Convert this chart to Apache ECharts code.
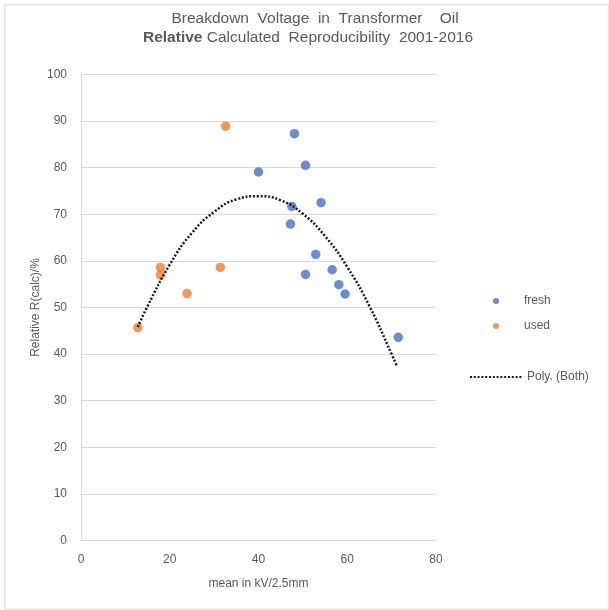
<!DOCTYPE html>
<html><head><meta charset="utf-8">
<script src="https://cdn.jsdelivr.net/npm/echarts@6/dist/echarts.min.js"></script>
<style>html,body{margin:0;padding:0;background:#fff}#c{width:609px;height:610px}</style>
</head><body><div id="c"></div>
<script>
const freshX = [48.1, 50.6, 40.0, 47.5, 54.1, 47.2, 52.9, 50.6, 56.6, 58.1, 59.5, 71.5];
const freshY = [87.3, 80.5, 79.1, 71.7, 72.5, 67.9, 61.4, 57.1, 58.1, 54.9, 52.9, 43.6];
const usedX = [32.6, 17.9, 17.9, 23.9, 31.4, 12.8];
const usedY = [88.9, 58.6, 57.0, 53.0, 58.6, 45.7];
const trendX = [12.8, 15, 20, 25, 30, 35, 40, 45, 50, 55, 60, 65, 70, 71.1];
const trendY = [45.8, 50.3, 59.2, 66.0, 70.5, 73.2, 73.9, 73.0, 70.1, 65.3, 58.7, 50.3, 40.0, 37.6];
const xTicks = [0, 20, 40, 60, 80];
const yTicks = [0, 10, 20, 30, 40, 50, 60, 70, 80, 90, 100];

const zip = (a, b) => a.map((v, i) => [v, b[i]]);
const txt = '#595959';
const grid = '#d9d9d9';
const ff = 'Liberation Sans, Arial';
const rich = {
  n: {fontFamily: ff, fontSize: 15.5, color: txt, fontWeight: 'normal', lineHeight: 16},
  b: {fontFamily: ff, fontSize: 15.5, color: txt, fontWeight: 'bold', lineHeight: 16}
};
const chart = echarts.init(document.getElementById('c'));
chart.setOption({
  backgroundColor: '#fff',
  animation: false,
  title: [{
    left: 315, textAlign: 'center', top: 11, padding: 0,
    text: '{n|Breakdown  Voltage  in  Transformer    Oil}',
    textStyle: {fontWeight: 'normal', fontFamily: ff, fontSize: 15.5, color: txt, rich: rich}
  }, {
    left: 308, textAlign: 'center', top: 30, padding: 0,
    text: '{b|Relative} {n|Calculated  Reproducibility  2001-2016}',
    textStyle: {fontWeight: 'normal', fontFamily: ff, fontSize: 15.5, color: txt, rich: rich}
  }],
  graphic: [{
    type: 'rect', left: 2, top: 2, silent: true,
    shape: {width: 604, height: 605},
    style: {fill: 'none', stroke: '#e3e3e3', lineWidth: 1.5}
  }],
  legend: [{
    orient: 'vertical', left: 488, top: 290, itemGap: 13,
    itemWidth: 6, itemHeight: 6,
    textStyle: {color: txt, fontSize: 12, fontFamily: ff, padding: [0, 0, 0, 20]},
    data: [{name: 'fresh', icon: 'circle'}, {name: 'used', icon: 'circle'}]
  }, {
    left: 464, top: 366, itemWidth: 52, itemHeight: 8,
    itemStyle: {opacity: 0},
    textStyle: {color: txt, fontSize: 12, fontFamily: ff, padding: [0, 0, 0, 0]},
    data: [{name: 'Poly. (Both)'}]
  }],
  grid: {left: 81, right: 173, top: 74.5, bottom: 69.5, containLabel: false},
  xAxis: {
    type: 'value', min: xTicks[0], max: xTicks[xTicks.length - 1], interval: 20,
    name: 'mean in kV/2.5mm', nameLocation: 'middle', nameGap: 37,
    nameMoveOverlap: false,
    nameTextStyle: {color: txt, fontSize: 12, fontFamily: ff},
    axisLine: {show: true, lineStyle: {color: grid, width: 1}},
    axisTick: {show: false},
    axisLabel: {color: txt, fontSize: 12, margin: 13, fontFamily: ff},
    splitLine: {show: false}
  },
  yAxis: {
    type: 'value', min: yTicks[0], max: yTicks[yTicks.length - 1], interval: 10,
    name: 'Relative R(calc)/%', nameLocation: 'middle', nameGap: 39,
    nameMoveOverlap: false,
    nameTextStyle: {color: txt, fontSize: 12, fontFamily: ff},
    axisLine: {show: true, lineStyle: {color: grid, width: 1}},
    axisTick: {show: false},
    axisLabel: {color: txt, fontSize: 12, margin: 14, fontFamily: ff},
    splitLine: {show: true, lineStyle: {color: grid, width: 1}}
  },
  series: [{
    name: 'fresh', type: 'scatter', symbol: 'circle', symbolSize: 9.5,
    itemStyle: {color: '#4472C4'}, data: zip(freshX, freshY), z: 3
  }, {
    name: 'used', type: 'scatter', symbol: 'circle', symbolSize: 9.5,
    itemStyle: {color: '#ED7D31'}, data: zip(usedX, usedY), z: 3
  }, {
    name: 'Poly. (Both)', type: 'line', smooth: true, symbol: 'none',
    lineStyle: {color: '#1a1a1a', width: 2.5, type: [2, 1.8]},
    itemStyle: {color: '#1a1a1a'},
    data: zip(trendX, trendY), z: 4
  }]
});
</script></body></html>
